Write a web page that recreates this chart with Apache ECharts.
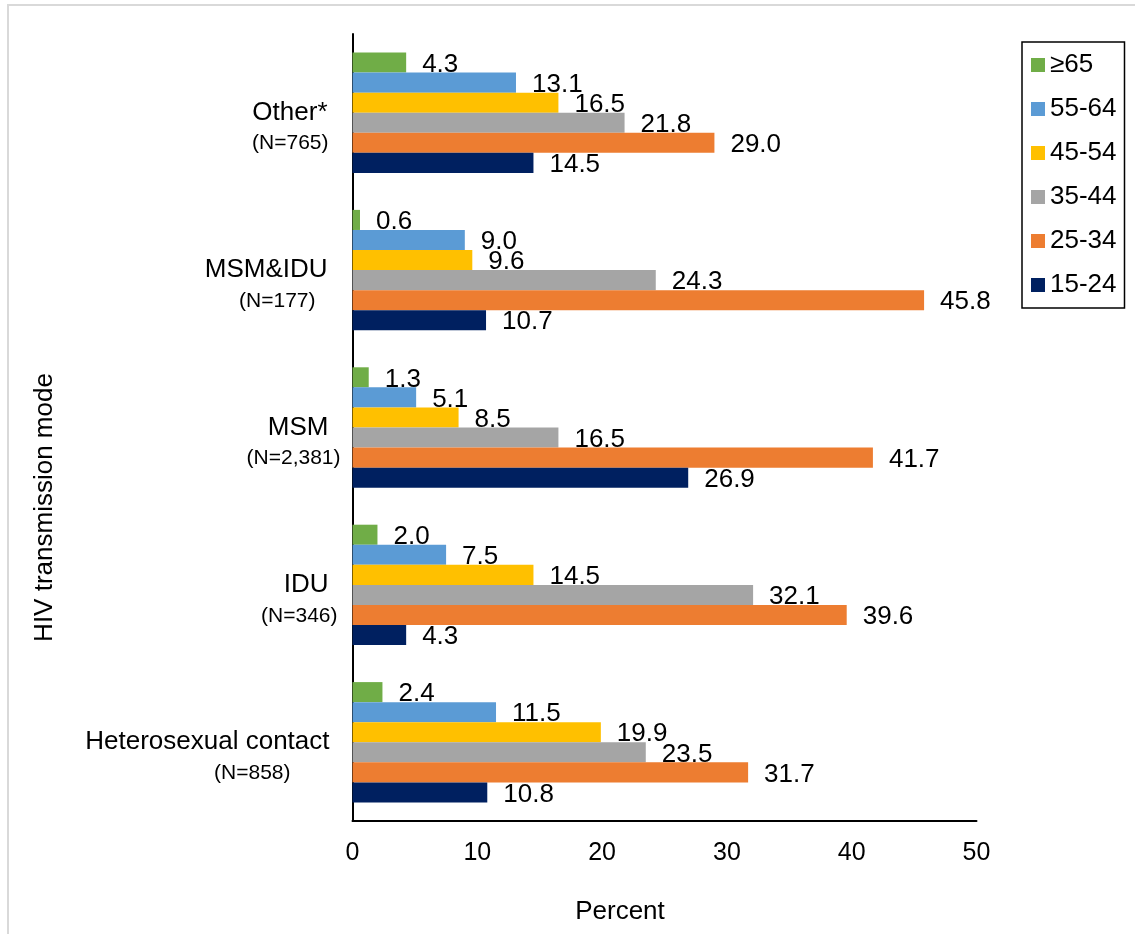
<!DOCTYPE html>
<html>
<head>
<meta charset="utf-8">
<title>HIV transmission mode by age group</title>
<script src="https://cdn.jsdelivr.net/npm/echarts@6/dist/echarts.min.js"></script>
<style>
  html, body { margin: 0; padding: 0; background: #fff; }
  #chart { width: 1135px; height: 934px; }
</style>
</head>
<body>
<div id="chart"></div>
<script>
// Transmission modes, listed bottom to top along the category axis
const modes = ['Heterosexual contact', 'IDU', 'MSM', 'MSM&IDU', 'Other*'];
const modeCounts = ['(N=858)', '(N=346)', '(N=2,381)', '(N=177)', '(N=765)'];

// Age groups (top bar in each group first)
const ageGroups = ['≥65', '55-64', '45-54', '35-44', '25-34', '15-24'];

// Percent of each transmission mode falling in each age group
const age65plus = [2.4, 2.0, 1.3, 0.6, 4.3];
const age55to64 = [11.5, 7.5, 5.1, 9.0, 13.1];
const age45to54 = [19.9, 14.5, 8.5, 9.6, 16.5];
const age35to44 = [23.5, 32.1, 16.5, 24.3, 21.8];
const age25to34 = [31.7, 39.6, 41.7, 45.8, 29.0];
const age15to24 = [10.8, 4.3, 26.9, 10.7, 14.5];

const seriesValues = [age65plus, age55to64, age45to54, age35to44, age25to34, age15to24];
const seriesColors = ['#70AD47', '#5B9BD5', '#FFC000', '#A5A5A5', '#ED7D31', '#002060'];

const xTicks = [0, 10, 20, 30, 40, 50];

// Right-side insets (px) for the two lines of each category label
const nameInset = [11, 12, 12, 13, 13];
const countInset = [50, 3, 0, 25, 12];

const FONT = "'Liberation Sans', Arial, Helvetica, sans-serif";

const rich = {};
modes.forEach((m, i) => {
  rich['m' + i] = {
    fontFamily: FONT, fontSize: 26, color: '#000', lineHeight: 30,
    align: 'right', padding: [0, nameInset[i], 0, 0]
  };
  rich['n' + i] = {
    fontFamily: FONT, fontSize: 21, color: '#000', lineHeight: 32,
    align: 'right', padding: [0, countInset[i], 0, 0]
  };
});

const chart = echarts.init(document.getElementById('chart'), null, { renderer: 'canvas' });

chart.setOption({
  animation: false,
  backgroundColor: '#fff',
  textStyle: { fontFamily: FONT },
  graphic: [{
    type: 'rect',
    shape: { x: 8, y: 5, width: 1300, height: 1100 },
    style: { fill: 'none', stroke: '#d9d9d9', lineWidth: 2 },
    silent: true,
    z: -1
  }],
  legend: {
    orient: 'vertical',
    left: 1022,
    top: 42,
    padding: [10, 8, 10, 9],
    borderColor: '#000',
    borderWidth: 1.5,
    icon: 'rect',
    itemWidth: 14,
    itemHeight: 14,
    itemGap: 18,
    itemTextGap: 6,
    data: ageGroups,
    textStyle: { fontFamily: FONT, fontSize: 26, color: '#000', lineHeight: 26 }
  },
  grid: { left: 352.5, right: 158.5, top: 34, bottom: 113, containLabel: false },
  xAxis: {
    type: 'value',
    min: xTicks[0],
    max: xTicks[xTicks.length - 1],
    interval: xTicks[1] - xTicks[0],
    name: 'Percent',
    nameLocation: 'middle',
    nameGap: 78,
    nameTextStyle: { fontFamily: FONT, fontSize: 26, color: '#000', padding: [0, 89, 0, 0] },
    axisLine: { show: true, lineStyle: { color: '#000', width: 2 } },
    axisTick: { show: false },
    splitLine: { show: false },
    axisLabel: { fontFamily: FONT, fontSize: 25, color: '#000', margin: 20 }
  },
  yAxis: {
    type: 'category',
    data: modes,
    name: 'HIV transmission mode',
    nameLocation: 'middle',
    nameRotate: 90,
    nameGap: 295,
    nameTextStyle: { fontFamily: FONT, fontSize: 26, color: '#000', padding: [0, 160, 0, 0] },
    axisLine: { show: true, lineStyle: { color: '#000', width: 2 } },
    axisTick: { show: false },
    axisLabel: {
      margin: 12,
      padding: [32, 0, 0, 0],
      align: 'right',
      verticalAlign: 'middle',
      rich: rich,
      formatter: (value, idx) => '{m' + idx + '|' + value + '}\n{n' + idx + '|' + modeCounts[idx] + '}'
    }
  },
  series: ageGroups.map((name, i) => ({
    name: name,
    type: 'bar',
    data: seriesValues[i],
    barGap: '0%',
    barCategoryGap: '23.5%',
    itemStyle: { color: seriesColors[i] },
    label: {
      show: true,
      position: 'right',
      distance: 16,
      offset: [0, 2],
      fontFamily: FONT,
      fontSize: 26,
      color: '#000',
      formatter: p => p.value.toFixed(1)
    }
  }))
});
</script>
</body>
</html>
